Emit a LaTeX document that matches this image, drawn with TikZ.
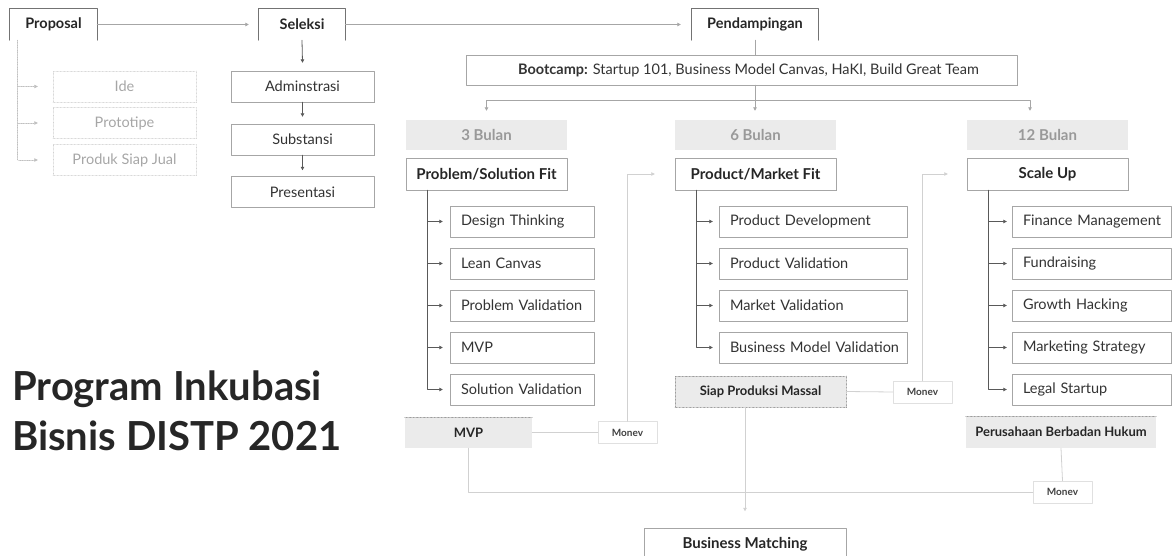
\documentclass[tikz,border=0pt]{standalone}
\usepackage{fontspec}
\setmainfont{Lato}
\usetikzlibrary{arrows.meta,shadows}
\begin{document}
\begin{tikzpicture}[x=1pt, y=-1pt, >={Triangle[length=3.5pt,width=3.5pt]}, font=\fontsize{14.5}{17}\selectfont, line join=round, line cap=round,
	tab/.style={inner sep=0pt, minimum height=31pt, font=\fontsize{14.5}{17}\selectfont\bfseries, text=black!85},
	box/.style={draw=black!35, fill=white, inner sep=0pt, minimum height=31pt, text=black!80, general shadow={fill=black!55, shadow xshift=0.8pt, shadow yshift=-0.8pt}},
	sub/.style={box, text width=#1, inner xsep=11pt, align=left, execute at begin node={\hbox\bgroup}, execute at end node={\egroup}},
	head/.style={fill=black!8, inner sep=0pt, minimum width=161pt, minimum height=30pt, font=\fontsize{15}{18}\selectfont\bfseries, text=black!40},
	goal/.style={fill=black!8, inner sep=0pt, minimum height=31pt, font=\fontsize{13}{16}\selectfont\bfseries, text=black!85},
	monev/.style={fill=white, draw=black!12, inner sep=0pt, minimum width=59pt, minimum height=22pt, font=\fontsize{10}{12}\selectfont\bfseries, text=black!75},
	faded/.style={draw=black!18, densely dotted, inner sep=0pt, minimum width=143pt, minimum height=31pt, text=black!35},
	tabln/.style={draw=black!55, line width=0.8pt},
	mainln/.style={draw=black!35, line width=0.8pt},
	subln/.style={draw=black!65, line width=0.8pt},
	softln/.style={draw=black!18, line width=0.8pt},
	fadeln/.style={draw=black!25, densely dotted, line width=0.7pt}]
	\useasboundingbox (0,0) rectangle (1172,556);
	% tahap utama
	\node[tab, minimum width=87pt] (prop) at (53.5,24.5) {Proposal};
	\node[tab, minimum width=86pt] (sel) at (302,24.5) {Seleksi};
	\node[tab, minimum width=126pt] (pend) at (755,24.5) {Pendampingan};
	\draw[tabln] (prop.south west) |- (prop.north east) -- (prop.south east);
	\draw[tabln] (sel.south west) |- (sel.north east) -- (sel.south east);
	\draw[tabln] (pend.south west) |- (pend.north east) -- (pend.south east);
	\draw[mainln,->] (prop.east) -- ([xshift=-10pt]sel.west);
	\draw[mainln,->] (sel.east) -- ([xshift=-11pt]pend.west);
	% proposal
	\node[faded] (ide) at (124.5,86.5) {Ide};
	\node[faded] (proto) at (124.5,123) {Prototipe};
	\node[faded] (psj) at (124.5,160) {Produk Siap Jual};
	\draw[fadeln,->] ([xshift=8pt]prop.south west) |- ([xshift=-15pt]psj.west);
	\draw[fadeln,->] ([xshift=8pt]prop.south west |- ide.west) -- ([xshift=-15pt]ide.west);
	\draw[fadeln,->] ([xshift=8pt]prop.south west |- proto.west) -- ([xshift=-15pt]proto.west);
	% seleksi
	\node[box, minimum width=143pt] (adm) at (302.5,86.5) {Adminstrasi};
	\node[box, minimum width=143pt] (subs) at (302.5,139.5) {Substansi};
	\node[box, minimum width=143pt] (pres) at (302.5,192) {Presentasi};
	\draw[subln,->] (sel.south) -- ([yshift=8pt]adm.north);
	\draw[subln,->] (adm.south) -- ([yshift=7pt]subs.north);
	\draw[subln,->] (subs.south) -- ([yshift=6pt]pres.north);
	% pendampingan
	\node[box, minimum width=551pt, minimum height=30pt] (boot) at (741.5,70) {\hspace{14pt}\textbf{Bootcamp:} Startup 101, Business Model Canvas, HaKI, Build Great Team};
	\draw[mainln] (pend.south) -- (pend.south |- boot.north);
	\coordinate (split) at (755,100);
	\draw[mainln] (boot.south -| split) -- (split);
	\node[head] (b3) at (486.5,135) {3 Bulan};
	\node[head] (b6) at (755.5,135) {6 Bulan};
	\node[head] (b12) at (1047.5,135) {12 Bulan};
	\draw[mainln,->] (split) -| ([yshift=9pt]b3.north);
	\draw[mainln,->] (split) -- ([yshift=9pt]b6.north -| split);
	\draw[mainln,->] (split) -| ([xshift=-17.5pt,yshift=9pt]b12.north);
	\node[box, minimum width=161pt, minimum height=32pt, font=\fontsize{15}{18}\selectfont\bfseries, text=black!85] (psf) at (486.5,174) {Problem/Solution Fit};
	\node[box, minimum width=161pt, minimum height=32pt, font=\fontsize{15}{18}\selectfont\bfseries, text=black!85] (pmf) at (755.5,174) {Product/Market Fit};
	\node[box, minimum width=161pt, minimum height=32pt, font=\fontsize{15}{18}\selectfont\bfseries, text=black!85] (sup) at (1047.5,174) {Scale Up};
	% 3 bulan
	\node[sub=122pt] (dthink) at (522,221.5) {Design Thinking};
	\node[sub=122pt] (lcanvas) at (522,263.5) {Lean Canvas};
	\node[sub=122pt] (pval) at (522,305.5) {Problem Validation};
	\node[sub=122pt] (mvpx) at (522,347.5) {MVP};
	\node[sub=122pt] (sval) at (522,389.5) {Solution Validation};
	\draw[subln,->] ([xshift=22pt]psf.south west) |- ([xshift=-7pt]sval.west);
	\draw[subln,->] ([xshift=22pt]psf.south west |- dthink.west) -- ([xshift=-7pt]dthink.west);
	\draw[subln,->] ([xshift=22pt]psf.south west |- lcanvas.west) -- ([xshift=-7pt]lcanvas.west);
	\draw[subln,->] ([xshift=22pt]psf.south west |- pval.west) -- ([xshift=-7pt]pval.west);
	\draw[subln,->] ([xshift=22pt]psf.south west |- mvpx.west) -- ([xshift=-7pt]mvpx.west);
	% 6 bulan
	\node[sub=166pt] (pdev) at (813,221.5) {Product Development};
	\node[sub=166pt] (pvald) at (813,263.5) {Product Validation};
	\node[sub=166pt] (mval) at (813,305.5) {Market Validation};
	\node[sub=166pt] (bmval) at (813,347.5) {Business Model Validation};
	\draw[subln,->] ([xshift=22pt]pmf.south west) |- ([xshift=-6pt]bmval.west);
	\draw[subln,->] ([xshift=22pt]pmf.south west |- pdev.west) -- ([xshift=-6pt]pdev.west);
	\draw[subln,->] ([xshift=22pt]pmf.south west |- pvald.west) -- ([xshift=-6pt]pvald.west);
	\draw[subln,->] ([xshift=22pt]pmf.south west |- mval.west) -- ([xshift=-6pt]mval.west);
	% 12 bulan
	\node[sub=137pt] (fin) at (1091.5,221.5) {Finance Management};
	\node[sub=137pt] (fund) at (1091.5,263.5) {Fundraising};
	\node[sub=137pt] (growth) at (1091.5,305.5) {Growth Hacking};
	\node[sub=137pt] (mkt) at (1091.5,347.5) {Marketing Strategy};
	\node[sub=137pt] (legal) at (1091.5,389.5) {Legal Startup};
	\draw[subln,->] ([xshift=22pt]sup.south west) |- ([xshift=-5pt]legal.west);
	\draw[subln,->] ([xshift=22pt]sup.south west |- fin.west) -- ([xshift=-5pt]fin.west);
	\draw[subln,->] ([xshift=22pt]sup.south west |- fund.west) -- ([xshift=-5pt]fund.west);
	\draw[subln,->] ([xshift=22pt]sup.south west |- growth.west) -- ([xshift=-5pt]growth.west);
	\draw[subln,->] ([xshift=22pt]sup.south west |- mkt.west) -- ([xshift=-5pt]mkt.west);
	% hasil dan monev
	\node[goal, minimum width=127pt] (mvp) at (468.5,432.5) {MVP};
	\node[goal, minimum width=171pt, draw=black!45, densely dotted] (spm) at (760.5,391.5) {Siap Produksi Massal};
	\node[goal, minimum width=190pt, minimum height=32pt] (pbh) at (1061,432) {Perusahaan Berbadan Hukum};
	\draw[black!45, densely dotted] (mvp.north west) -- (mvp.north east);
	\draw[black!45, densely dotted] (pbh.north west) -- (pbh.north east);
	\node[monev] (mon1) at (627.5,432.5) {Monev};
	\node[monev] (mon2) at (922.5,392) {Monev};
	\node[monev] (mon3) at (1062.5,492) {Monev};
	\draw[softln] (mvp.east) -- (mon1.west);
	\draw[softln,->] (mon1.north) |- ([xshift=-20pt]pmf.west);
	\draw[softln] (spm.east) -- (mon2.west);
	\draw[softln,->] (mon2.north) |- ([xshift=-19pt]sup.west);
	\draw[softln] (pbh.south) -- (mon3.north);
	\draw[softln] (mvp.south) |- (mon3.west);
	\node[box, minimum width=202pt, font=\fontsize{15}{18}\selectfont\bfseries, text=black!85] (bm) at (745,544) {Business Matching};
	\draw[softln,->] (bm.north |- spm.south) -- ([yshift=17pt]bm.north);
	% judul
	\node[anchor=base west, inner sep=0pt, font=\fontsize{40}{48}\selectfont\bfseries, text=black!85] (title1) at (12,400) {Program Inkubasi};
	\node[anchor=base west, inner sep=0pt, font=\fontsize{40}{48}\selectfont\bfseries, text=black!85] (title2) at (12,450) {Bisnis DISTP 2021};
\end{tikzpicture}
\end{document}
